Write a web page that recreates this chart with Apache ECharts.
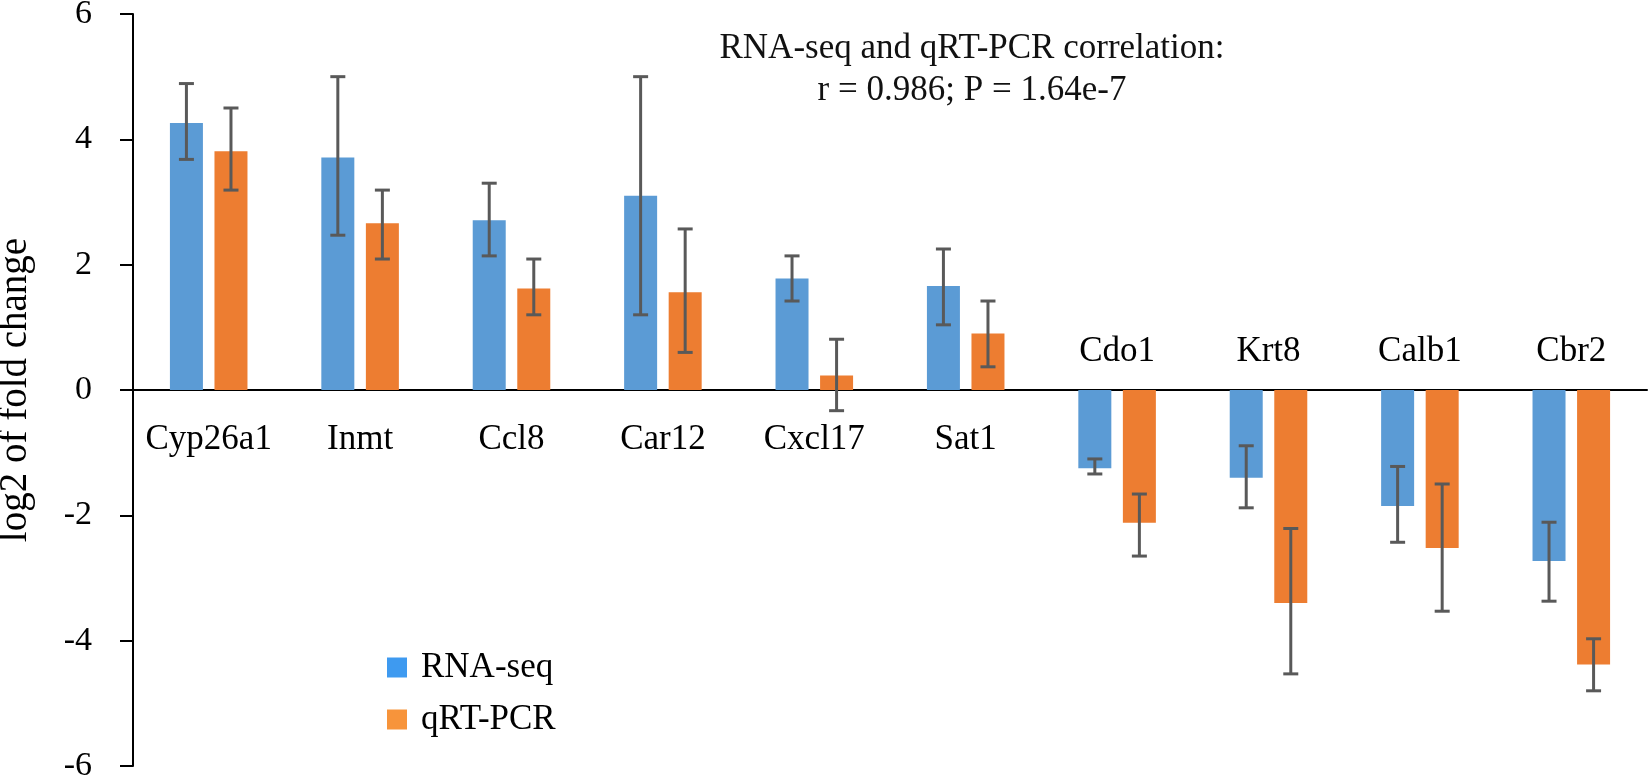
<!DOCTYPE html>
<html>
<head>
<meta charset="utf-8">
<title>RNA-seq vs qRT-PCR</title>
<script src="https://cdn.jsdelivr.net/npm/echarts@6/dist/echarts.min.js"></script>
<style>
  html, body { margin: 0; padding: 0; background: #fff; }
  #chart { width: 1650px; height: 782px; }
</style>
</head>
<body>
<div id="chart"></div>
<script>
// genes and log2 fold changes
const genes = ['Cyp26a1', 'Inmt', 'Ccl8', 'Car12', 'Cxcl17', 'Sat1', 'Cdo1', 'Krt8', 'Calb1', 'Cbr2']
const rnaSeq = [4.26, 3.71, 2.71, 3.10, 1.78, 1.66, -1.25, -1.40, -1.85, -2.73]
const rnaLow = [3.68, 2.47, 2.14, 1.20, 1.42, 1.04, -1.34, -1.88, -2.43, -3.37]
const rnaHigh = [4.89, 5.00, 3.30, 5.00, 2.14, 2.25, -1.10, -0.89, -1.22, -2.11]
const qpcr = [3.81, 2.66, 1.62, 1.56, 0.23, 0.90, -2.12, -3.40, -2.52, -4.38]
const qpcrLow = [3.19, 2.09, 1.20, 0.60, -0.33, 0.37, -2.65, -4.53, -3.53, -4.80]
const qpcrHigh = [4.50, 3.19, 2.09, 2.57, 0.81, 1.42, -1.66, -2.21, -1.50, -3.97]
const yTicks = [-6, -4, -2, 0, 2, 4, 6]

const FONT = "'Liberation Serif', 'Times New Roman', serif"
const BAR_W = 33
const BAR_GAP = 0.35
const SHIFT = (BAR_W + BAR_W * BAR_GAP) / 2

const chart = echarts.init(document.getElementById('chart'))

// error bar with caps, shifted onto its bar
const errorBar = (sign) => (params, api) => {
  const i = api.value(0)
  const lo = api.coord([i, api.value(1)])
  const hi = api.coord([i, api.value(2)])
  const x = lo[0] + sign * SHIFT
  const style = { stroke: '#595959', lineWidth: 3 }
  return {
    type: 'group',
    children: [
      { type: 'line', shape: { x1: x, y1: lo[1], x2: x, y2: hi[1] }, style },
      { type: 'line', shape: { x1: x - 7.5, y1: lo[1], x2: x + 7.5, y2: lo[1] }, style },
      { type: 'line', shape: { x1: x - 7.5, y1: hi[1], x2: x + 7.5, y2: hi[1] }, style }
    ]
  }
}

// gene name under the zero line for up genes, above it for down genes
const geneLabel = (params, api) => {
  const i = api.value(0)
  const p = api.coord([i, 0])
  const up = rnaSeq[i] >= 0
  return {
    type: 'text',
    x: p[0],
    y: up ? p[1] + 50 : p[1] - 38,
    style: {
      text: genes[i],
      fill: '#000',
      font: `35px ${FONT}`,
      textAlign: 'center',
      textVerticalAlign: 'middle'
    }
  }
}

const option = {
  animation: false,
  backgroundColor: '#fff',
  textStyle: { fontFamily: FONT },
  grid: { left: 133, right: 3, top: 14, bottom: 16, containLabel: false, outerBoundsMode: 'none' },
  legend: {
    data: [
      { name: 'RNA-seq', itemStyle: { color: '#3E9AF0' } },
      { name: 'qRT-PCR', itemStyle: { color: '#F7943B' } }
    ],
    orient: 'vertical',
    left: 382,
    top: 645,
    itemWidth: 20,
    itemHeight: 20,
    itemGap: 17,
    icon: 'rect',
    textStyle: { color: '#000', fontFamily: FONT, fontSize: 35, padding: [0, 0, 0, 9] }
  },
  graphic: [
    {
      type: 'text',
      x: 972,
      y: 49,
      style: {
        text: 'RNA-seq and qRT-PCR correlation:',
        fill: '#111',
        font: `35px ${FONT}`,
        textAlign: 'center',
        textVerticalAlign: 'middle'
      }
    },
    {
      type: 'text',
      x: 972,
      y: 91,
      style: {
        text: 'r = 0.986; P = 1.64e-7',
        fill: '#111',
        font: `35px ${FONT}`,
        textAlign: 'center',
        textVerticalAlign: 'middle'
      }
    }
  ],
  xAxis: {
    type: 'category',
    data: genes,
    axisLine: { onZero: true, lineStyle: { color: '#000', width: 2 } },
    axisTick: { show: false },
    axisLabel: { show: false }
  },
  yAxis: {
    type: 'value',
    min: yTicks[0],
    max: yTicks[yTicks.length - 1],
    interval: 2,
    name: 'log2 of fold change',
    nameLocation: 'middle',
    nameRotate: 90,
    nameGap: 98,
    nameTextStyle: { color: '#000', fontFamily: FONT, fontSize: 39 },
    axisLine: { show: true, lineStyle: { color: '#000', width: 2 } },
    axisTick: { show: true, inside: false, length: 13, lineStyle: { color: '#000', width: 2 } },
    axisLabel: { color: '#000', fontFamily: FONT, fontSize: 34, margin: 41 },
    splitLine: { show: false }
  },
  series: [
    {
      name: 'RNA-seq',
      type: 'bar',
      data: rnaSeq,
      barWidth: BAR_W,
      barGap: BAR_GAP * 100 + '%',
      itemStyle: { color: '#5B9BD5' }
    },
    {
      name: 'qRT-PCR',
      type: 'bar',
      data: qpcr,
      barWidth: BAR_W,
      barGap: BAR_GAP * 100 + '%',
      itemStyle: { color: '#ED7D31' }
    },
    {
      name: 'RNA-seq error',
      type: 'custom',
      renderItem: errorBar(-1),
      data: genes.map((g, i) => [i, rnaLow[i], rnaHigh[i]]),
      z: 5,
      silent: true
    },
    {
      name: 'qRT-PCR error',
      type: 'custom',
      renderItem: errorBar(1),
      data: genes.map((g, i) => [i, qpcrLow[i], qpcrHigh[i]]),
      z: 5,
      silent: true
    },
    {
      name: 'gene labels',
      type: 'custom',
      renderItem: geneLabel,
      data: genes.map((g, i) => [i, 0]),
      z: 6,
      silent: true
    }
  ]
}

chart.setOption(option)
window.addEventListener('resize', () => chart.resize())
</script>
</body>
</html>
